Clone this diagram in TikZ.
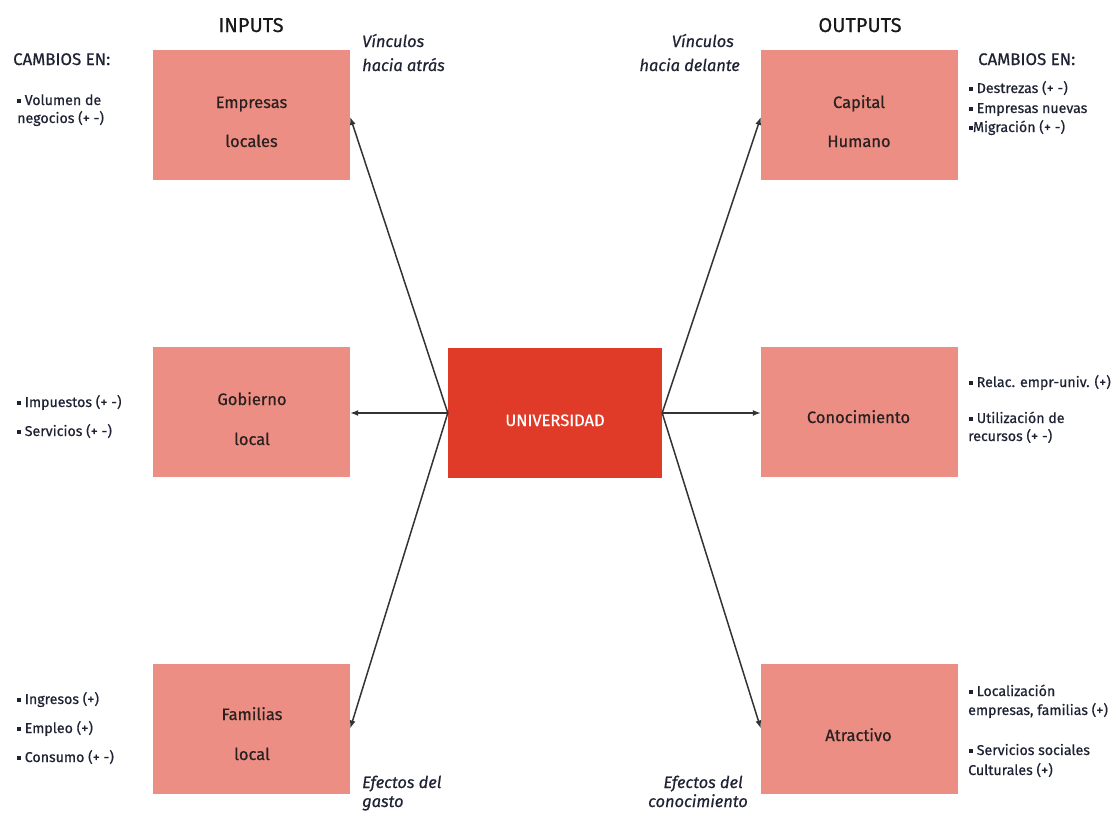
\documentclass[tikz,border=0pt]{standalone}
\usepackage{fontspec}
\setmainfont{Fira Sans}[RawFeature={embolden=0.6}]
\usetikzlibrary{arrows.meta}
\definecolor{boxc}{HTML}{EC8E84}
\definecolor{unic}{HTML}{E03A28}
\definecolor{txt}{HTML}{1E2233}
\definecolor{boxt}{HTML}{2A2020}
\newcommand\bul{\rule[2.5pt]{3.8pt}{3.8pt}}
\begin{document}
\begin{tikzpicture}[x=1pt,y=-1pt,
  box/.style={fill=boxc,minimum width=197pt,minimum height=130pt,inner sep=0pt},
  unibox/.style={fill=unic,minimum width=214pt,minimum height=130pt,inner sep=0pt},
  boxtext/.style={anchor=base,inner sep=0pt,text=boxt,font=\fontsize{16.5}{20}\selectfont},
  unitext/.style={anchor=base,inner sep=0pt,text=white,font=\fontsize{16.5}{18}\selectfont},
  title/.style={anchor=base,inner sep=0pt,text=black!90,font=\fontsize{20}{24}\selectfont},
  cambios/.style={anchor=base west,inner sep=0pt,text=txt,font=\fontsize{16.8}{20}\selectfont},
  lab/.style={anchor=base west,inner sep=0pt,text=txt,font=\fontsize{14.2}{16}\selectfont},
  ital/.style={anchor=base west,inner sep=0pt,text=txt,font=\fontsize{16.4}{19}\selectfont\itshape},
  italr/.style={ital,anchor=base east},
  arr/.style={-{Latex[length=8pt,width=6pt]},line width=1.5pt,black!80}
]
\useasboundingbox (0,0) rectangle (1120,814);

% boxes
\node[box] (emp) at (251.5,115) {};
\node[box] (gob) at (251.5,412) {};
\node[box] (fam) at (251.5,728.5) {};
\node[unibox] (uni) at (555,413) {};
\node[box] (cap) at (859.5,115) {};
\node[box] (con) at (859.5,412) {};
\node[box] (atr) at (859.5,728.5) {};

% box texts
\node[boxtext] (empa) at (251.5,108) {Empresas};
\node[boxtext] (empb) at (251.5,147) {locales};
\node[boxtext] (goba) at (252,405) {Gobierno};
\node[boxtext] (gobb) at (252,445) {local};
\node[boxtext] (fama) at (252,720) {Familias};
\node[boxtext] (famb) at (252,760) {local};
\node[boxtext] (capa) at (859,108) {Capital};
\node[boxtext] (capb) at (859,147) {Humano};
\node[boxtext] (cona) at (858.5,423) {Conocimiento};
\node[boxtext] (atra) at (858.5,741) {Atractivo};
\node[unitext] (unia) at (555,426) {UNIVERSIDAD};

% arrows
\coordinate (ul) at (uni.west);
\coordinate (ur) at (uni.east);
\draw[arr] (ul) -- ([yshift=-2pt]emp.east);
\draw[arr] (ul) -- (gob.east |- ul);
\draw[arr] (ul) -- (fam.east);
\draw[arr] (ur) -- ([yshift=-2pt]cap.west);
\draw[arr] (ur) -- (con.west |- ur);
\draw[arr] (ur) -- (atr.west);

% titles
\node[title] (tin) at (251,32) {INPUTS};
\node[title] (tout) at (860,32) {OUTPUTS};
\node[cambios] (cl) at (13,65) {CAMBIOS EN:};
\node[cambios] (cr) at (978,65) {CAMBIOS EN:};

% italic labels
\node[ital] (v1a) at (362,47) {Vínculos};
\node[ital] (v1b) at (362,71) {hacia atrás};
\node[italr] (v2a) at (734,47) {Vínculos};
\node[italr] (v2b) at (740,71) {hacia delante};
\node[ital] (e1a) at (362,788) {Efectos del};
\node[ital] (e1b) at (362,807) {gasto};
\node[italr] (e2a) at (743,788) {Efectos del};
\node[italr] (e2b) at (748,807) {conocimiento};

% left bullets
\node[lab] (l1) at (17,105) {\bul\ Volumen de};
\node[lab] (l2) at (17,123) {negocios (+ -)};
\node[lab] (l3) at (17,407) {\bul\ Impuestos (+ -)};
\node[lab] (l4) at (17,436) {\bul\ Servicios (+ -)};
\node[lab] (l5) at (17,704) {\bul\ Ingresos (+)};
\node[lab] (l6) at (17,733) {\bul\ Empleo (+)};
\node[lab] (l7) at (17,762) {\bul\ Consumo (+ -)};

% right bullets
\node[lab] (r1) at (969,93) {\bul\ Destrezas (+ -)};
\node[lab] (r2) at (969,113) {\bul\ Empresas nuevas};
\node[lab] (r3) at (969,132) {\bul Migración (+ -)};
\node[lab] (r4) at (969,387) {\bul\ Relac. empr-univ. (+)};
\node[lab] (r5) at (969,423) {\bul\ Utilización de};
\node[lab] (r6) at (968,441) {recursos (+ -)};
\node[lab] (r7) at (969,696) {\bul\ Localización};
\node[lab] (r8) at (968,715) {empresas, familias (+)};
\node[lab] (r9) at (969,755) {\bul\ Servicios sociales};
\node[lab] (r10) at (968,775) {Culturales (+)};
\end{tikzpicture}
\end{document}
